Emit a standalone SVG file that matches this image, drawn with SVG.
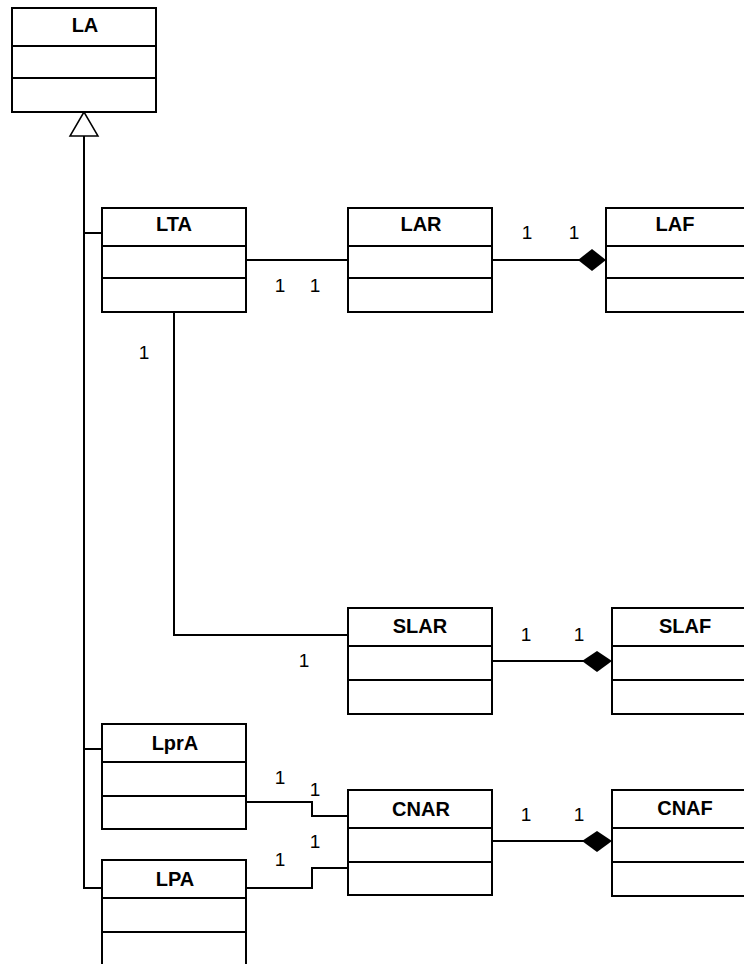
<svg xmlns="http://www.w3.org/2000/svg" width="744" height="964" viewBox="0 0 744 964">
<style>
.box{fill:#fff;stroke:#000;stroke-width:2}
.div{stroke:#000;stroke-width:2}
.t{font-family:"Liberation Sans",Arial,sans-serif;font-size:20px;font-weight:bold;text-anchor:middle;fill:#000}
.m{font-family:"Liberation Sans",Arial,sans-serif;font-size:19px;text-anchor:middle;fill:#000}
.c{fill:none;stroke:#000;stroke-width:2}
</style>
<rect width="744" height="964" fill="#fff"/>
<g id="connectors">
<polyline class="c" points="84,136 84,888 102,888"/>
<line class="c" x1="84" y1="233" x2="102" y2="233"/>
<line class="c" x1="84" y1="749" x2="102" y2="749"/>
<polygon points="84,112 70,136 98,136" fill="#fff" stroke="#000" stroke-width="1.5"/>
<line class="c" x1="246" y1="260" x2="348" y2="260"/>
<line class="c" x1="492" y1="260" x2="580" y2="260"/>
<polygon points="606,260 592,249 578,260 592,271" fill="#000"/>
<polyline class="c" points="174,312 174,635 348,635"/>
<line class="c" x1="492" y1="661" x2="584" y2="661"/>
<polygon points="612,661 597,651 582,661 597,672" fill="#000"/>
<polyline class="c" points="246,802 312,802 312,816 348,816"/>
<polyline class="c" points="246,888 312,888 312,868 348,868"/>
<line class="c" x1="492" y1="841" x2="584" y2="841"/>
<polygon points="612,841 597,831 582,841 597,852" fill="#000"/>
<text class="m" x="280" y="292">1</text>
<text class="m" x="315" y="292">1</text>
<text class="m" x="527" y="239">1</text>
<text class="m" x="574" y="239">1</text>
<text class="m" x="144" y="359">1</text>
<text class="m" x="304" y="667">1</text>
<text class="m" x="526" y="641">1</text>
<text class="m" x="579" y="641">1</text>
<text class="m" x="280" y="784">1</text>
<text class="m" x="315" y="796">1</text>
<text class="m" x="315" y="848">1</text>
<text class="m" x="280" y="866">1</text>
<text class="m" x="526" y="821">1</text>
<text class="m" x="579" y="821">1</text>
</g>
<g id="LA">
<rect class="box" x="12" y="8" width="144" height="104"/>
<line class="div" x1="12" y1="46" x2="156" y2="46"/>
<line class="div" x1="12" y1="78" x2="156" y2="78"/>
<text class="t" x="85" y="32">LA</text>
</g>
<g id="LTA">
<rect class="box" x="102" y="208" width="144" height="104"/>
<line class="div" x1="102" y1="246" x2="246" y2="246"/>
<line class="div" x1="102" y1="278" x2="246" y2="278"/>
<text class="t" x="174" y="231">LTA</text>
</g>
<g id="LAR">
<rect class="box" x="348" y="208" width="144" height="104"/>
<line class="div" x1="348" y1="246" x2="492" y2="246"/>
<line class="div" x1="348" y1="278" x2="492" y2="278"/>
<text class="t" x="421" y="231">LAR</text>
</g>
<g id="LAF">
<rect class="box" x="606" y="208" width="144" height="104"/>
<line class="div" x1="606" y1="246" x2="750" y2="246"/>
<line class="div" x1="606" y1="278" x2="750" y2="278"/>
<text class="t" x="675" y="231">LAF</text>
</g>
<g id="SLAR">
<rect class="box" x="348" y="608" width="144" height="106"/>
<line class="div" x1="348" y1="646" x2="492" y2="646"/>
<line class="div" x1="348" y1="680" x2="492" y2="680"/>
<text class="t" x="420" y="633">SLAR</text>
</g>
<g id="SLAF">
<rect class="box" x="612" y="608" width="144" height="106"/>
<line class="div" x1="612" y1="646" x2="756" y2="646"/>
<line class="div" x1="612" y1="680" x2="756" y2="680"/>
<text class="t" x="685" y="633">SLAF</text>
</g>
<g id="LprA">
<rect class="box" x="102" y="724" width="144" height="105"/>
<line class="div" x1="102" y1="762" x2="246" y2="762"/>
<line class="div" x1="102" y1="796" x2="246" y2="796"/>
<text class="t" x="175" y="750">LprA</text>
</g>
<g id="CNAR">
<rect class="box" x="348" y="790" width="144" height="105"/>
<line class="div" x1="348" y1="828" x2="492" y2="828"/>
<line class="div" x1="348" y1="862" x2="492" y2="862"/>
<text class="t" x="421" y="816">CNAR</text>
</g>
<g id="CNAF">
<rect class="box" x="612" y="790" width="144" height="106"/>
<line class="div" x1="612" y1="828" x2="756" y2="828"/>
<line class="div" x1="612" y1="862" x2="756" y2="862"/>
<text class="t" x="685" y="815">CNAF</text>
</g>
<g id="LPA">
<rect class="box" x="102" y="860" width="144" height="110"/>
<line class="div" x1="102" y1="898" x2="246" y2="898"/>
<line class="div" x1="102" y1="932" x2="246" y2="932"/>
<text class="t" x="175" y="886">LPA</text>
</g>
</svg>
